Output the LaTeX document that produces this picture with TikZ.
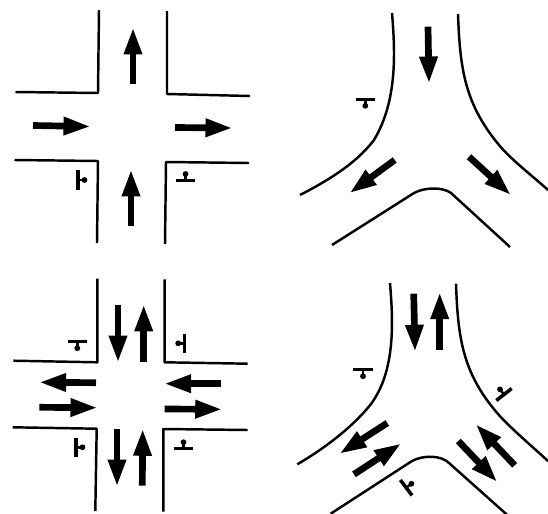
\documentclass[tikz,border=0pt]{standalone}
\usepackage{tikz}
\usetikzlibrary{arrows.meta}
\tikzset{
  kerb/.style={line width=1.4pt,line join=round},
  flow/.style={line width=3.8pt,shorten >=-1pt,-{Triangle[length=15.5pt,width=9.6pt]}},
  yieldmark/.pic={
    \draw[line width=2pt] (-9.7,0)--(9.7,0);
    \draw[line width=1.4pt] (0,0)--(0,6.5);
    \fill (0,6.5) circle (2.9);
  }
}
\begin{document}
\begin{tikzpicture}[x=0.02cm,y=-0.02cm]
\useasboundingbox (0,0) rectangle (548,514);
% crossing, one way
\draw[kerb] (15.5,92)--(98,93)--(99,10);
\draw[kerb] (167,11)--(167,94)--(250,96);
\draw[kerb] (14.5,160)--(98,161)--(97,243);
\draw[kerb] (165,244)--(166,162)--(249,163);
\draw[flow] (133,84)--(133,29);
\draw[flow] (33,125.5)--(89,126.5);
\draw[flow] (175,127.5)--(231,128);
\draw[flow] (131,226)--(131,171);
\pic[rotate=90] at (78,180) {yieldmark};
\pic[rotate=180] at (185.5,180.5) {yieldmark};
% fork, one way
\draw[kerb] (392,13) .. controls (395,50) and (398,100) .. (374,140) .. controls (355,165) and (325,182) .. (300,195);
\draw[kerb] (458,14) .. controls (460,70) and (465,105) .. (500.7,147) .. controls (515,163) and (535,178) .. (548,190);
\draw[kerb] (332,245)--(414,193) .. controls (425,187) and (443,187) .. (451,193)--(510,247);
\draw[flow] (428,26.7)--(429,82);
\draw[flow] (394.7,160)--(350.7,192.3);
\draw[flow] (469,156.7)--(509.7,194);
\pic at (365.3,99.3) {yieldmark};
% crossing, two way
\draw[kerb] (13.3,360.7)--(97.3,362.3)--(97.3,278.7);
\draw[kerb] (164.7,279.3)--(164.7,362.3)--(247.7,363.7);
\draw[kerb] (12.7,427.3)--(96.7,428.7)--(95.3,511);
\draw[kerb] (163.3,511.7)--(163.3,429)--(247.7,430);
\draw[flow] (118,305.3)--(118,361);
\draw[flow] (143.7,362)--(143.7,306);
\draw[flow] (96,382.7)--(40.7,382.3);
\draw[flow] (39.3,407.3)--(96,407.7);
\draw[flow] (221,383.7)--(165.7,383.7);
\draw[flow] (164.7,409)--(220.7,409.3);
\draw[flow] (117,429)--(117,485);
\draw[flow] (142.3,485.7)--(142.7,430.3);
\pic at (77.3,341.7) {yieldmark};
\pic[rotate=270] at (184.7,343.3) {yieldmark};
\pic[rotate=90] at (76,447.3) {yieldmark};
\pic[rotate=180] at (183.5,448.7) {yieldmark};
% fork, two way
\draw[kerb] (390,283) .. controls (393,320) and (396,370) .. (371,404) .. controls (352,428) and (322,450) .. (297.3,464.3);
\draw[kerb] (456,283.7) .. controls (458,340) and (463,375) .. (500.7,417) .. controls (515,432) and (535,449) .. (548,461);
\draw[kerb] (330.7,513.7)--(412,461) .. controls (423,455) and (441,455) .. (449,463)--(507.3,515);
\draw[flow] (413.7,293.7)--(415,350.3);
\draw[flow] (439.7,350.3)--(439.7,293.7);
\draw[flow] (387.3,423)--(340.7,453);
\draw[flow] (354,474.3)--(400,444.3);
\draw[flow] (458.3,441)--(496.3,481);
\draw[flow] (514.7,465.3)--(476.7,425.3);
\pic at (363,369.7) {yieldmark};
\pic[rotate=218] at (504,394.5) {yieldmark};
\pic[rotate=127] at (406.2,487.7) {yieldmark};
\end{tikzpicture}
\end{document}
